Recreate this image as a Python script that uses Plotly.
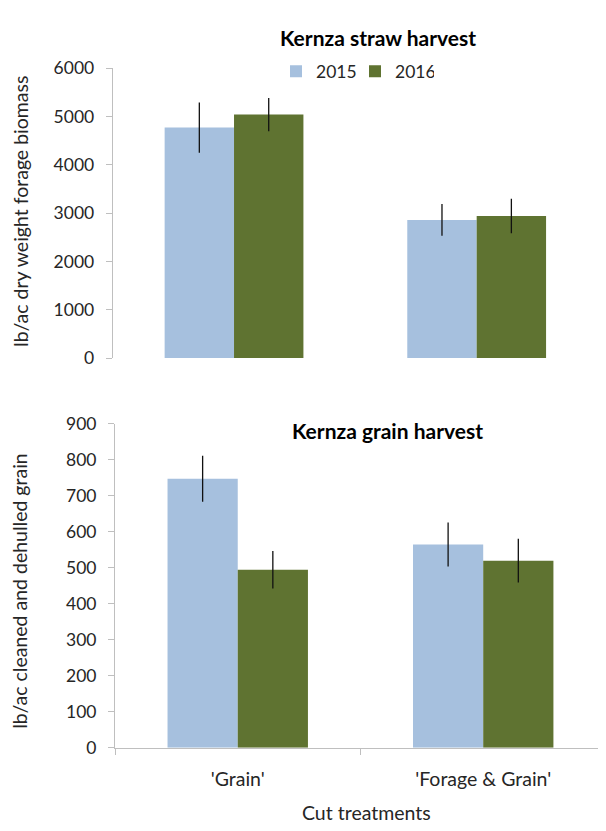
import plotly.graph_objects as go

# ---- data ----
categories = ["'Grain'", "'Forage & Grain'"]
years = ["2015", "2016"]
straw_2015 = [4770, 2860]
straw_2015_err = [520, 330]
straw_2016 = [5040, 2940]
straw_2016_err = [345, 355]
grain_2015 = [748, 565]
grain_2015_err = [64, 61]
grain_2016 = [495, 520]
grain_2016_err = [52, 61]
straw_ticks = [0, 1000, 2000, 3000, 4000, 5000, 6000]
grain_ticks = [0, 100, 200, 300, 400, 500, 600, 700, 800, 900]

BLUE = "#a6c0de"
GREEN = "#5f7331"
AXIS = "#bfbfbf"
TXT = "#262626"
FONT = "Lato"
PAGE_W, PAGE_H = 606, 831
OFF = 8  # default body margin of the html page
W, H = PAGE_W - 2 * OFF, PAGE_H - 2 * OFF

xpos = list(range(len(categories)))

fig = go.Figure()

def add(y, err, name, color, xa, ya, show):
    fig.add_trace(go.Bar(
        x=xpos, y=y, name=name, marker=dict(color=color, line=dict(width=0)),
        error_y=dict(type="data", array=err, color="#111111", thickness=1.3, width=0),
        xaxis=xa, yaxis=ya, showlegend=show, legendgroup=name,
    ))

add(straw_2015, straw_2015_err, years[0], BLUE, "x", "y", True)
add(straw_2016, straw_2016_err, years[1], GREEN, "x", "y", True)
add(grain_2015, grain_2015_err, years[0], BLUE, "x2", "y2", False)
add(grain_2016, grain_2016_err, years[1], GREEN, "x2", "y2", False)

def py(p):
    return 1 - (p - OFF) / H

def px(p):
    return (p - OFF) / W

yaxis_common = dict(
    showline=True, linecolor=AXIS, linewidth=1, ticks="outside", ticklen=6,
    tickcolor=AXIS, showgrid=False, zeroline=False, ticklabelstandoff=8,
    tickfont=dict(family=FONT, size=17.5, color=TXT),
)

fig.update_layout(
    width=W, height=H,
    margin=dict(l=0, r=0, t=0, b=0),
    paper_bgcolor="white", plot_bgcolor="white",
    barmode="group", bargap=0.428, bargroupgap=0,
    font=dict(family=FONT, size=17.5, color=TXT),
    xaxis=dict(domain=[px(112.7), min(1.0, px(599.5))], range=[-0.5, 1.5], anchor="y",
               showline=False, showticklabels=False, ticks="", showgrid=False, zeroline=False),
    yaxis=dict(domain=[py(356), py(58.5)], range=[0, 6000], tickvals=straw_ticks,
               anchor="x", **yaxis_common),
    xaxis2=dict(domain=[px(115), 1.0], range=[-0.5, 1.5 - (614.0 - 606.0) / 247.0], anchor="y2",
                showline=True, linecolor=AXIS, linewidth=1, showgrid=False, zeroline=False,
                tickvals=xpos, ticktext=categories, ticks="", ticklabelstandoff=14,
                tickfont=dict(family=FONT, size=19.5, color=TXT),
                minor=dict(tickvals=[-0.5, 0.5], ticks="outside", ticklen=6, tickcolor=AXIS)),
    yaxis2=dict(domain=[py(756), py(423.7)], range=[0, 900], tickvals=grain_ticks,
                anchor="x2", **yaxis_common),
    legend=dict(orientation="h", x=px(276), xanchor="left", y=py(61.7), yanchor="middle",
                font=dict(family=FONT, size=17.5, color=TXT), bgcolor="rgba(0,0,0,0)",
                itemclick=False, tracegroupgap=0, entrywidth=34, entrywidthmode="pixels"),
)

ann = []
ann.append(dict(text="<b>Kernza straw harvest</b>", x=px(378), y=py(27), xref="paper", yref="paper",
                showarrow=False, xanchor="center", yanchor="middle",
                font=dict(family=FONT, size=21, color="#000000")))
ann.append(dict(text="<b>Kernza grain harvest</b>", x=px(387), y=py(430), xref="paper", yref="paper",
                showarrow=False, xanchor="center", yanchor="middle",
                font=dict(family=FONT, size=21, color="#000000")))
ann.append(dict(text="lb/ac dry weight forage biomass", x=px(21), y=py(206), xref="paper", yref="paper",
                showarrow=False, textangle=-90, xanchor="center", yanchor="middle",
                font=dict(family=FONT, size=19.5, color=TXT)))
ann.append(dict(text="lb/ac cleaned and dehulled grain", x=px(20), y=py(595), xref="paper", yref="paper",
                showarrow=False, textangle=-90, xanchor="center", yanchor="middle",
                font=dict(family=FONT, size=19.5, color=TXT)))
ann.append(dict(text="Cut treatments", x=px(366), y=py(822), xref="paper", yref="paper",
                showarrow=False, xanchor="center", yanchor="middle",
                font=dict(family=FONT, size=19.5, color=TXT)))
fig.update_layout(annotations=ann)

fig.write_html("out.html")
